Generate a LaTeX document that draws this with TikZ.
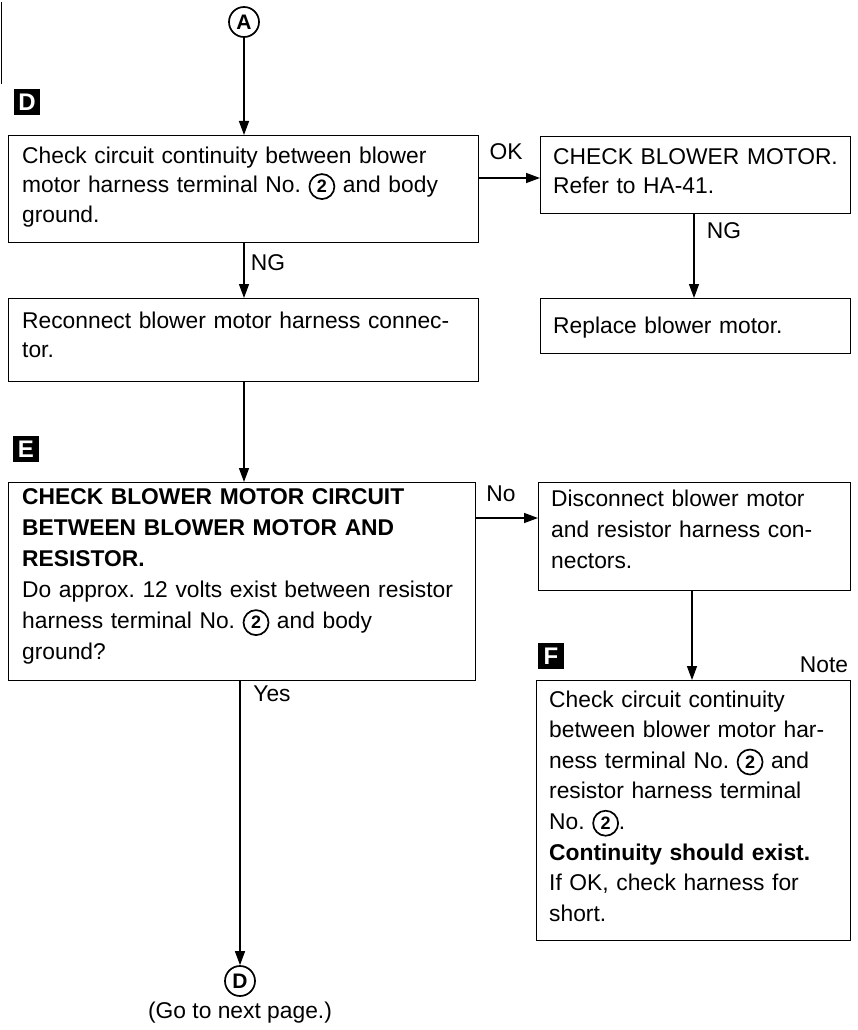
\documentclass[tikz,border=0pt]{standalone}
\usepackage{fontspec}
\setmainfont{Liberation Sans}
\usetikzlibrary{arrows.meta}
\newcommand\circtwo{\tikz[baseline=(c2.base)]\node[draw,circle,line width=1.7pt,inner sep=0pt,minimum size=25pt,font=\fontsize{18}{18}\selectfont\bfseries](c2){2};}
\begin{document}
\frenchspacing
\begin{tikzpicture}[x=1pt,y=-1pt,
  box/.style={draw,line width=1.4pt,inner sep=0pt,anchor=north west},
  txt/.style={anchor=north west,inner sep=0pt,align=left,text width=470pt},
  lab/.style={font=\fontsize{22.8}{22.8}\selectfont,inner sep=0pt},
  arr/.style={-{Triangle[length=14pt,width=10pt]},line width=1.4pt},
  tag/.style={fill=black,text=white,minimum width=26pt,minimum height=26pt,inner sep=0pt,font=\fontsize{24}{24}\selectfont\bfseries},
  circ/.style={draw,circle,line width=1.7pt,minimum size=30pt,inner sep=0pt,font=\fontsize{21}{21}\selectfont\bfseries}]
\useasboundingbox (0,0) rectangle (858,1030);
\fill[white] (0,0) rectangle (858,1030);
\draw[line width=1.5pt] (1.5,2) -- (1.5,84);

% markers
\node[circ] (cA) at (244,22) {A};
\node[circ] (cD) at (240,981) {D};
\node[lab] (go) at (240,1013) {(Go to next page.)};
\node[tag] (tD) at (27,102) {D};
\node[tag] (tE) at (26,449) {E};
\node[tag] (tF) at (551,656) {F};

% boxes
\node[box,minimum width=470pt,minimum height=107pt] (b1) at (8,135) {};
\node[box,minimum width=310pt,minimum height=77pt] (b2) at (540,136) {};
\node[box,minimum width=470pt,minimum height=83pt] (b3) at (8,298) {};
\node[box,minimum width=310pt,minimum height=55pt] (b4) at (540,298) {};
\node[box,minimum width=467pt,minimum height=198pt] (b5) at (8,482) {};
\node[box,minimum width=312pt,minimum height=108pt] (b6) at (538,482) {};
\node[box,minimum width=314pt,minimum height=260pt] (b7) at (536,680) {};

% texts (north = first baseline - 0.7*baselineskip)
\node[txt,font=\fontsize{22.8}{29.5}\selectfont] (t1) at (22,142.5)
  {\strut Check circuit continuity between blower\\motor harness terminal No. \circtwo{} and body\\ground.};
\node[txt,font=\fontsize{22.8}{29.5}\selectfont] (t2) at (553,143.5)
  {\strut CHECK BLOWER MOTOR.\\Refer to HA-41.};
\node[txt,font=\fontsize{22.8}{29.5}\selectfont] (t3) at (22,307.5)
  {\strut Reconnect blower motor harness connec-\\tor.};
\node[txt,font=\fontsize{22.8}{29.5}\selectfont] (t4) at (553,312.5)
  {\strut Replace blower motor.};
\node[txt,font=\fontsize{22.8}{31}\selectfont] (t5) at (22,483)
  {\strut\textbf{CHECK BLOWER MOTOR CIRCUIT}\\\textbf{BETWEEN BLOWER MOTOR AND}\\\textbf{RESISTOR.}\\Do approx. 12 volts exist between resistor\\harness terminal No. \circtwo{} and body\\ground?};
\node[txt,font=\fontsize{22.8}{31}\selectfont] (t6) at (551,485)
  {\strut Disconnect blower motor\\and resistor harness con-\\nectors.};
\node[txt,font=\fontsize{22.8}{30.6}\selectfont] (t7) at (549,685.5)
  {\strut Check circuit continuity\\between blower motor har-\\ness terminal No. \circtwo{} and\\resistor harness terminal\\No. \circtwo.\\\textbf{Continuity should exist.}\\If OK, check harness for\\short.};

% connector guides
\coordinate (xl) at (244,0);
\coordinate (xr) at (694,0);
\coordinate (xr2) at (692,0);
\coordinate (xd) at (240,0);
\coordinate (yok) at (0,178);
\coordinate (yno) at (0,518);

% connectors
\draw[arr] (cA.south) -- (cA.south |- b1.north);
\draw[arr] (xl |- b1.south) -- (xl |- b3.north);
\draw[arr] (yok -| b1.east) -- (yok -| b2.west);
\draw[arr] (xr |- b2.south) -- (xr |- b4.north);
\draw[arr] (xl |- b3.south) -- (xl |- b5.north);
\draw[arr] (yno -| b5.east) -- (yno -| b6.west);
\draw[arr] (xr2 |- b6.south) -- (xr2 |- b7.north);
\draw[arr] (xd |- b5.south) -- (cD.north);

% labels
\node[lab] (lok) at (506,152) {OK};
\node[lab] (lng1) at (268,263) {NG};
\node[lab] (lng2) at (724,231) {NG};
\node[lab] (lno) at (501,494) {No};
\node[lab] (lyes) at (272,694) {Yes};
\node[lab] (lnote) at (824,665) {Note};
\end{tikzpicture}
\end{document}
